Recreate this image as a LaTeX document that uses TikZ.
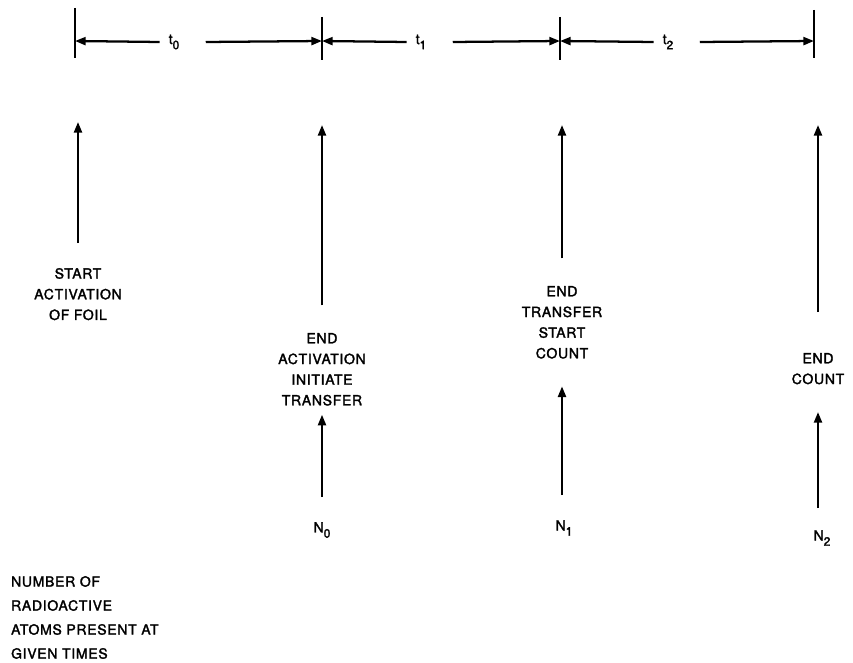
\documentclass[tikz,border=0pt]{standalone}
\usepackage{fontspec}
\setmainfont{TeX Gyre Heros}[FakeBold=2,LetterSpace=5]
\usetikzlibrary{arrows.meta}
\begin{document}
\begin{tikzpicture}[x=0.75pt,y=-0.75pt,
  line width=1.7pt,
  tip/.style={-{Triangle[length=8pt,width=6pt]}},
  lbl/.style={align=center,inner sep=0pt,anchor=north,
    font=\fontsize{10.5}{15.5}\selectfont},
  sym/.style={inner sep=0pt,font=\fontsize{10.5}{12}\selectfont},
  tick/.style={line width=1.7pt}]
\useasboundingbox (0,0) rectangle (853,663);

% time marks on the top scale
\coordinate (T0) at (75,41);
\coordinate (T1) at (322,41);
\coordinate (T2) at (560,41);
\coordinate (T3) at (814,41);
\draw[tick] (75,8) -- (75,58);
\draw[tick] (322,17) -- (322,60);
\draw[tick] (560,17) -- (560,60);
\draw[tick] (814,10) -- (814,58);

% interval labels
\node[sym] (l0) at (174,42) {t\raisebox{-0.7ex}{\fontsize{9}{9}\selectfont 0}};
\node[sym] (l1) at (421,42) {t\raisebox{-0.7ex}{\fontsize{9}{9}\selectfont 1}};
\node[sym] (l2) at (668,42) {t\raisebox{-0.7ex}{\fontsize{9}{9}\selectfont 2}};

% dimension lines, each half pointing at its own mark
\draw[tip] ([xshift=-6pt]l0.west) -- (T0);
\draw[tip] ([xshift=19pt]l0.east) -- (T1);
\draw[tip] ([xshift=-6pt]l1.west) -- (T1);
\draw[tip] ([xshift=19pt]l1.east) -- (T2);
\draw[tip] ([xshift=-6pt]l2.west) -- (T2);
\draw[tip] ([xshift=19pt]l2.east) -- (T3);

% event arrows pointing up to the scale
\coordinate (U0) at (78,122);
\coordinate (U1) at (322,125);
\coordinate (U2) at (562,125);
\coordinate (U3) at (818,125);

\node[lbl] (e0) at (78,267) {START\\ACTIVATION\\OF FOIL};
\node[lbl] (e1) at (322,332) {END\\ACTIVATION\\INITIATE\\TRANSFER};
\node[lbl] (e2) at (562,285) {END\\TRANSFER\\START\\COUNT};
\node[lbl] (e3) at (818,352) {END\\COUNT};

\draw[tip] ([yshift=18pt]e0.north) -- (U0);
\draw[tip] ([yshift=20pt]e1.north) -- (U1);
\draw[tip] ([yshift=20pt]e2.north) -- (U2);
\draw[tip] ([yshift=30pt]e3.north) -- (U3);

% atom counts
\node[sym] (n0) at (322,530) {N\raisebox{-0.7ex}{\fontsize{9}{9}\selectfont 0}};
\node[sym] (n1) at (564,528) {N\raisebox{-0.7ex}{\fontsize{9}{9}\selectfont 1}};
\node[sym] (n2) at (822,538) {N\raisebox{-0.7ex}{\fontsize{9}{9}\selectfont 2}};

\draw[tip] (e1.south |- n0.north) ++(0,-24) -- ([yshift=-6pt]e1.south);
\draw[tip] (e2.south |- n1.north) ++(0,-24) -- ([yshift=-20pt]e2.south);
\draw[tip] (e3.south |- n2.north) ++(0,-21) -- ([yshift=-20pt]e3.south);

% legend
\node[lbl,anchor=north west,align=left,font=\fontsize{10.5}{18}\selectfont]
  (leg) at (10,575) {NUMBER OF\\RADIOACTIVE\\ATOMS PRESENT AT\\GIVEN TIMES};
\end{tikzpicture}
\end{document}
